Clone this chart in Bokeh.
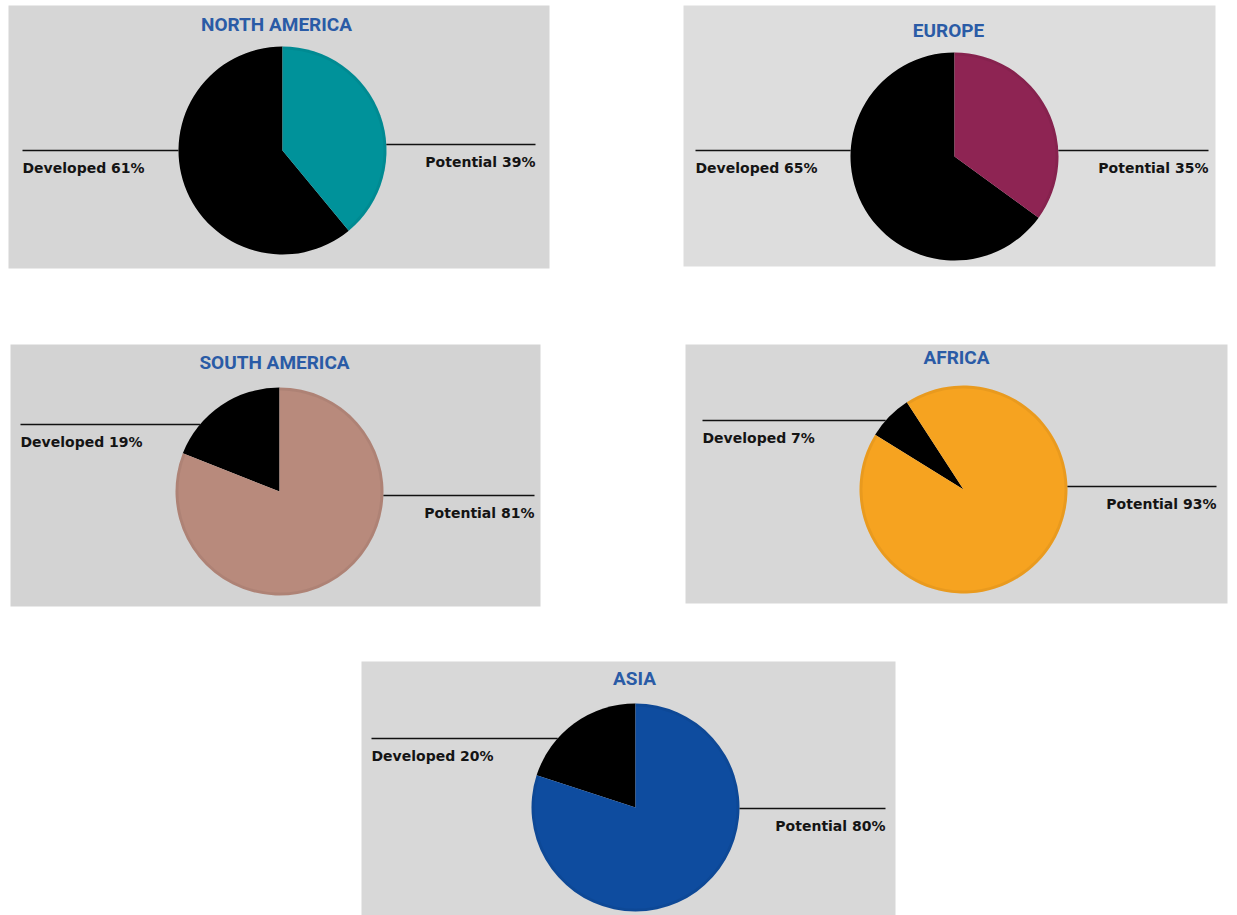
import math
from bokeh.plotting import figure
from bokeh.models import Range1d
from bokeh.core.properties import value
from bokeh.embed import file_html
from bokeh.resources import INLINE

# ---------------- data ----------------
regions = ["North America", "Europe", "South America", "Africa", "Asia"]
titles = ["NORTH AMERICA", "EUROPE", "SOUTH AMERICA", "AFRICA", "ASIA"]
developed = [61, 65, 19, 7, 20]
potential = [39, 35, 81, 93, 80]
potential_colors = ["#00929a", "#8e2453", "#b88a7c", "#f6a320", "#0e4c9f"]

# ---------------- layout (pixels, top-left origin) ----------------
W, H = 1237, 915
panels = [(8, 5, 549, 268), (683, 5, 1215, 266), (10, 344, 540, 606),
          (685, 344, 1227, 603), (361, 661, 895, 915)]
panel_bg = ["#d6d6d6", "#dddddd", "#d3d3d3", "#d7d7d7", "#d8d8d8"]
centers = [(282, 150), (954, 156), (279, 491), (963, 489), (635, 807)]
rotation_deg = [0, 0, 0, 33, 0]   # where the developed slice begins (ccw from 12 o'clock)
radius = 104
title_xy = [(276, 24), (948, 30), (274, 362), (956, 357), (634, 678)]
left_line = [(22, 150), (695, 150), (20, 424), (702, 420), (371, 738)]
right_line = [(535, 144), (1208, 150), (534, 495), (1216, 486), (885, 808)]

def fy(y):
    return H - y

p = figure(width=W, height=H, output_backend="svg", toolbar_location=None,
           x_range=Range1d(0, W), y_range=Range1d(0, H),
           x_axis_type=None, y_axis_type=None, min_border=0,
           outline_line_color=None, background_fill_color="white",
           border_fill_color="white")
p.grid.visible = False

# panels
p.quad(left=[b[0] for b in panels], right=[b[2] for b in panels],
       top=[fy(b[1]) for b in panels], bottom=[fy(b[3]) for b in panels],
       fill_color=panel_bg, line_color=None)

font_lbl = value("DejaVu Sans")
for i, reg in enumerate(regions):
    cx, cy = centers[i]
    d_frac = developed[i] / 100.0
    p_frac = potential[i] / 100.0
    a0 = math.pi / 2 + math.radians(rotation_deg[i])
    # developed wedge: counter-clockwise from a0
    p.wedge(x=[cx], y=[fy(cy)], radius=radius,
            start_angle=[a0], end_angle=[a0 + d_frac * 2 * math.pi],
            fill_color="black", line_color=None)
    # potential wedge: clockwise from a0
    p.wedge(x=[cx], y=[fy(cy)], radius=radius,
            start_angle=[a0 - p_frac * 2 * math.pi], end_angle=[a0],
            fill_color=potential_colors[i], line_color=None)
    # soft rim shading
    p.circle(x=[cx], y=[fy(cy)], radius=radius - 1.5, fill_color=None,
             line_color="black", line_alpha=0.05, line_width=3)

    # title
    tx, ty = title_xy[i]
    p.text(x=[tx], y=[fy(ty)], text=[titles[i]], text_align="center",
           text_baseline="middle", text_font=value("Roboto"),
           text_font_style="bold", text_font_size="19px", text_color="#2a5ba6")

    # left leader line + label
    lx, ly = left_line[i]
    dy = abs(ly - cy)
    lend = cx - math.sqrt(max(radius ** 2 - dy ** 2, 0))
    p.segment(x0=[lx], y0=[fy(ly)], x1=[lend], y1=[fy(ly)],
              line_color="#111111", line_width=1.5)
    p.text(x=[lx], y=[fy(ly + 9)], text=[f"Developed {developed[i]}%"],
           text_align="left", text_baseline="top", text_font=font_lbl,
           text_font_style="bold", text_font_size="14px", text_color="#141414")

    # right leader line + label
    rx, ry = right_line[i]
    dy = abs(ry - cy)
    rstart = cx + math.sqrt(max(radius ** 2 - dy ** 2, 0))
    p.segment(x0=[rstart], y0=[fy(ry)], x1=[rx], y1=[fy(ry)],
              line_color="#111111", line_width=1.5)
    p.text(x=[rx], y=[fy(ry + 9)], text=[f"Potential {potential[i]}%"],
           text_align="right", text_baseline="top", text_font=font_lbl,
           text_font_style="bold", text_font_size="14px", text_color="#141414")

open("out.html", "w").write(file_html(p, INLINE))
